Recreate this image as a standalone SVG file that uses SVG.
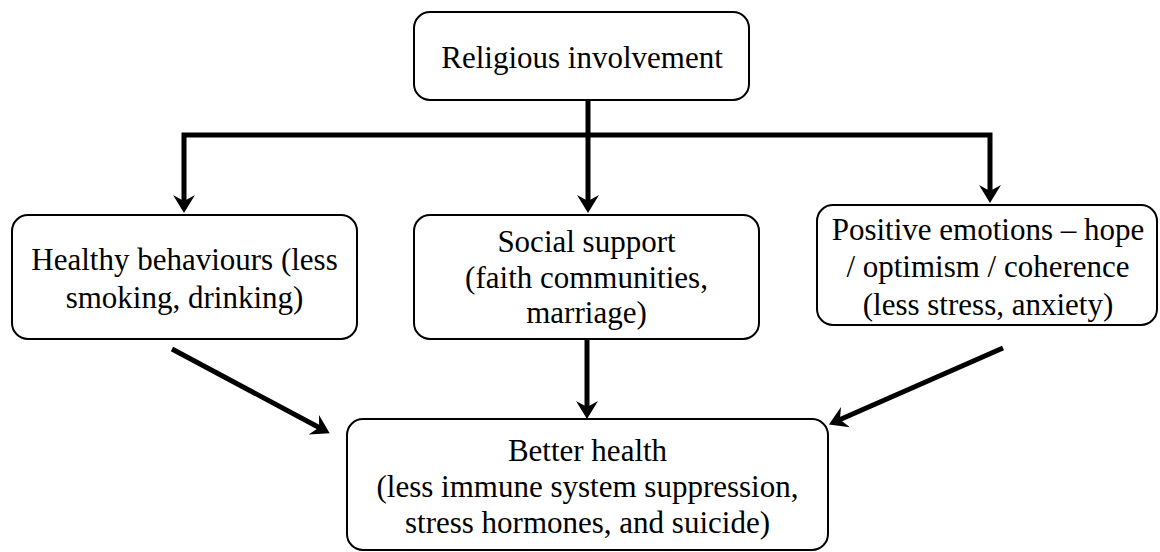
<svg xmlns="http://www.w3.org/2000/svg" width="1160" height="552" viewBox="0 0 1160 552">
<style>
.box{fill:#fff;stroke:#000;stroke-width:2}
.t{font-family:'Liberation Serif','Times New Roman',serif;font-size:31px;fill:#000;text-anchor:middle}
.c{fill:none;stroke:#000;stroke-width:5}
</style>
<defs>
<marker id="ah" markerUnits="userSpaceOnUse" markerWidth="22" markerHeight="26" viewBox="0 -13 22 26" refX="7" refY="0" orient="auto">
<path d="M18,0 L0,-11 L6,0 L0,11 Z" fill="#000"/>
</marker>
</defs>
<rect width="1160" height="552" fill="#fff"/>
<g id="connectors">
<path class="c" d="M588,100 V202" marker-end="url(#ah)"/>
<path class="c" d="M588,135 H184 V202" marker-end="url(#ah)"/>
<path class="c" d="M588,135 H990 V192" marker-end="url(#ah)"/>
<path class="c" d="M172,349 L320,428" marker-end="url(#ah)"/>
<path class="c" d="M587,339 V408" marker-end="url(#ah)"/>
<path class="c" d="M1003,348 L839,420" marker-end="url(#ah)"/>
</g>
<g id="religious">
<rect class="box" x="414" y="12" width="335" height="88" rx="16"/>
<text class="t" x="582" y="68">Religious involvement</text>
</g>
<g id="healthy">
<rect class="box" x="12" y="215" width="345" height="124" rx="16"/>
<text class="t" x="184.5" y="270">Healthy behaviours (less</text>
<text class="t" x="184.5" y="308">smoking, drinking)</text>
</g>
<g id="social">
<rect class="box" x="414" y="215" width="345" height="124" rx="16"/>
<text class="t" x="586.5" y="252">Social support</text>
<text class="t" x="586.5" y="288">(faith communities,</text>
<text class="t" x="586.5" y="323">marriage)</text>
</g>
<g id="positive">
<rect class="box" x="817" y="205" width="340" height="120" rx="16"/>
<text class="t" x="988" y="240">Positive emotions – hope</text>
<text class="t" x="988" y="277">/ optimism / coherence</text>
<text class="t" x="988" y="315">(less stress, anxiety)</text>
</g>
<g id="better">
<rect class="box" x="347" y="419" width="481" height="131" rx="16"/>
<text class="t" x="587.5" y="461">Better health</text>
<text class="t" x="587.5" y="497">(less immune system suppression,</text>
<text class="t" x="587.5" y="533">stress hormones, and suicide)</text>
</g>
</svg>
